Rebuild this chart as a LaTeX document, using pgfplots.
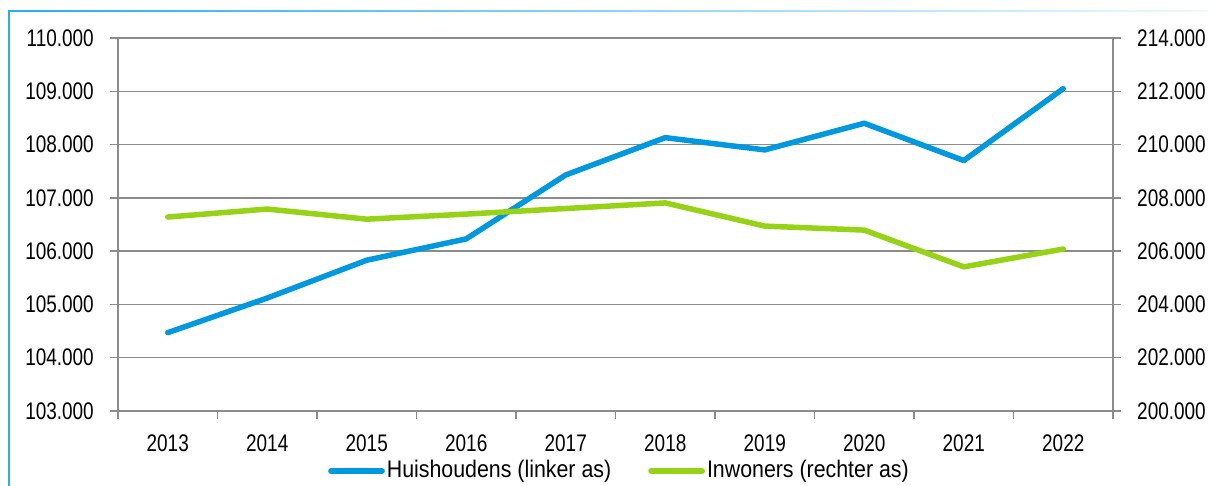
\documentclass[border=0pt]{standalone}
\usepackage{pgfplots}
\pgfplotsset{compat=1.18}
\usepackage{fontspec}
\setmainfont[FakeStretch=0.79]{Liberation Sans}
\newfontfamily\legfont[FakeStretch=0.89]{Liberation Sans}
\definecolor{hhblue}{RGB}{0,152,222}
\definecolor{inwgreen}{RGB}{150,210,22}
\definecolor{gridgray}{RGB}{140,140,140}
\definecolor{framecyan}{RGB}{40,175,235}

\begin{document}
\fontsize{24bp}{27bp}\selectfont
\begin{tikzpicture}
\useasboundingbox (-118bp,-75bp) rectangle (1097bp,411bp);
% frame
\draw[framecyan, line width=1.5bp] (-109bp,-80bp) -- (-109bp,400bp);
\shade[left color=framecyan, right color=framecyan!8] (-109.75bp,399.25bp) rectangle (1090bp,400.75bp);

\pgfplotsset{
  base/.style={
    scale only axis, width=995bp, height=373bp,
    at={(0,0)}, anchor=south west,
    xmin=-0.5, xmax=9.5,
    axis line style={gridgray, line width=1.5bp},
    tick style={gridgray, line width=1.5bp},
    major tick length=8bp,
    tick align=outside,
    ticklabel style={font=\fontsize{24bp}{27bp}\selectfont},
    scaled y ticks=false,
    yticklabel style={/pgf/number format/fixed, /pgf/number format/precision=0,
      /pgf/number format/1000 sep={.}, /pgf/number format/assume math mode=true},
  },
}

\begin{axis}[base,
  ymin=103000, ymax=110000,
  ytick={103000,104000,105000,106000,107000,108000,109000,110000},
  axis y line*=left, axis x line*=bottom,
  ymajorgrids, grid style={gridgray, line width=1.5bp},
  xtick={-0.5,0.5,...,9.5},
  x tick label as interval,
  xticklabels={2013,2014,2015,2016,2017,2018,2019,2020,2021,2022},
  xticklabel style={yshift=-8bp},
  yticklabel style={xshift=-8bp},
]
\addplot[hhblue, line width=5.5bp, line cap=round, line join=round] coordinates {
(0,104470) (1,105120) (2,105830) (3,106230) (4,107430)
(5,108130) (6,107900) (7,108400) (8,107700) (9,109050)};
\end{axis}

\begin{axis}[base,
  ymin=200000, ymax=214000,
  ytick={200000,202000,204000,206000,208000,210000,212000,214000},
  axis y line*=right, axis x line=none,
  yticklabel style={xshift=8bp},
  legend style={at={(0.504,-0.161)}, anchor=center, draw=none, fill=none,
    legend columns=2, font=\legfont\fontsize{24bp}{27bp}\selectfont,
    /tikz/every even column/.append style={column sep=35bp},
    inner sep=0pt},
  legend image code/.code={\draw[#1, line cap=round] (2.75bp,0bp) -- (54bp,0bp);},
]
\addlegendimage{hhblue, line width=5.5bp}
\addlegendentry{Huishoudens (linker as)}
\addplot[inwgreen, line width=5.5bp, line cap=round, line join=round] coordinates {
(0,207280) (1,207580) (2,207200) (3,207390) (4,207600)
(5,207810) (6,206940) (7,206790) (8,205410) (9,206080)};
\addlegendentry{Inwoners (rechter as)}
\end{axis}
\end{tikzpicture}
\end{document}
